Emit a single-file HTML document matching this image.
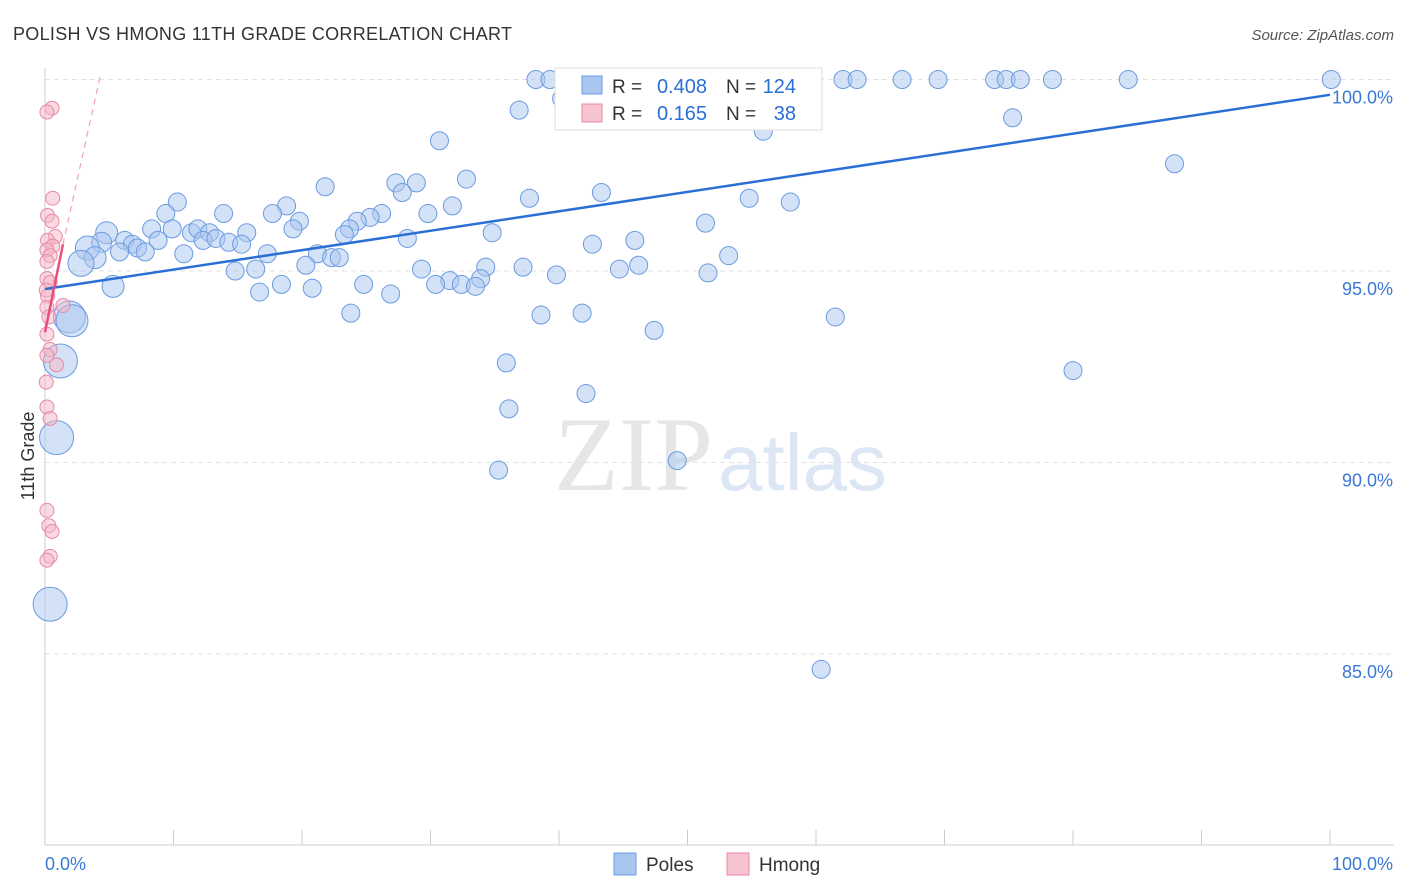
<!DOCTYPE html>
<html><head><meta charset="utf-8">
<style>
body{margin:0;background:#fff;font-family:"Liberation Sans",sans-serif;}
svg{display:block}
</style></head>
<body>
<svg id="chart" width="1406" height="892">
<text x="13" y="40" font-size="18" letter-spacing="0.3" fill="#333">POLISH VS HMONG 11TH GRADE CORRELATION CHART</text>
<text x="1394" y="40" font-size="15" fill="#555" font-style="italic" text-anchor="end">Source: ZipAtlas.com</text>
<text x="554" y="490" font-size="106" fill="#e6e6e6" font-family="Liberation Serif,serif">ZIP</text>
<text x="718" y="490" font-size="80" fill="#dce6f4">atlas</text>
<g id="grid"></g>
<g id="axes"></g>
<g id="marks"></g>
<text transform="translate(34,456) rotate(-90)" font-size="18" fill="#333" text-anchor="middle">11th Grade</text>
<g>
<rect x="555" y="68" width="267" height="62" fill="#fff" stroke="#ddd"/>
<rect x="582" y="76" width="20" height="18" fill="#a9c6ef" stroke="#6a9be0"/>
<text x="612" y="93" font-size="19" fill="#333">R =</text>
<text x="707" y="93" font-size="20" fill="#2a6fd6" text-anchor="end">0.408</text>
<text x="726" y="93" font-size="19" fill="#333">N =</text>
<text x="796" y="93" font-size="20" fill="#2a6fd6" text-anchor="end">124</text>
<rect x="582" y="104" width="20" height="18" fill="#f6c3d1" stroke="#e889a6"/>
<text x="612" y="120" font-size="19" fill="#333">R =</text>
<text x="707" y="120" font-size="20" fill="#2a6fd6" text-anchor="end">0.165</text>
<text x="726" y="120" font-size="19" fill="#333">N =</text>
<text x="796" y="120" font-size="20" fill="#2a6fd6" text-anchor="end">38</text>
</g>
<g>
<rect x="614" y="853" width="22" height="22" fill="#a9c6ef" stroke="#6a9be0"/>
<text x="646" y="871" font-size="19" fill="#333">Poles</text>
<rect x="727" y="853" width="22" height="22" fill="#f6c3d1" stroke="#e889a6"/>
<text x="759" y="871" font-size="19" fill="#333">Hmong</text>
</g>
</svg>
<script>
const yTicks=[100,95,90,85];
const yTickLabels=["100.0%","95.0%","90.0%","85.0%"];
const xTicks=[0,10,20,30,40,50,60,70,80,90,100];
const polesX=[38.2,39.3,41.2,43.2,46.3,47.9,50.2,54.1,55.3,62.1,63.2,66.7,69.5,73.9,74.8,75.9,78.4,84.3,100.1,40.2,36.9,41.0,75.3,55.9,30.7,87.9,32.8,27.3,28.9,21.8,27.8,43.3,10.3,37.7,54.8,58.0,18.8,31.7,9.4,13.9,17.7,26.2,29.8,19.8,25.3,24.3,51.4,4.8,8.3,9.9,11.4,11.9,12.8,15.7,19.3,23.7,23.3,34.8,4.4,3.3,6.2,6.8,8.8,7.2,7.8,12.3,13.3,14.3,15.3,28.2,42.6,45.9,5.8,3.9,10.8,17.3,21.2,22.3,22.9,53.2,2.8,14.8,16.4,20.3,29.3,34.3,37.2,44.7,46.2,51.6,39.8,33.9,31.5,5.3,18.4,30.4,32.4,33.5,24.8,20.8,16.7,26.9,23.8,38.6,41.8,61.5,1.9,2.1,47.4,1.2,35.9,80.0,42.1,36.1,0.9,35.3,49.2,0.4,60.4];
const polesY=[100,100,100,100,100,100,100,100,100,100,100,100,100,100,100,100,100,100,100,99.5,99.2,99.2,99.0,98.65,98.4,97.8,97.4,97.3,97.3,97.2,97.05,97.05,96.8,96.9,96.9,96.8,96.7,96.7,96.5,96.5,96.5,96.5,96.5,96.3,96.4,96.3,96.25,96.0,96.1,96.1,96.0,96.1,96.0,96.0,96.1,96.1,95.95,96.0,95.75,95.6,95.8,95.7,95.8,95.6,95.5,95.8,95.85,95.75,95.7,95.85,95.7,95.8,95.5,95.35,95.45,95.45,95.45,95.35,95.35,95.4,95.2,95.0,95.05,95.15,95.05,95.1,95.1,95.05,95.15,94.95,94.9,94.8,94.75,94.6,94.65,94.65,94.65,94.6,94.65,94.55,94.45,94.4,93.9,93.85,93.9,93.8,93.8,93.7,93.45,92.65,92.6,92.4,91.8,91.4,90.65,89.8,90.05,86.3,84.6];
const polesSize=[9,9,9,9,9,9,9,9,9,9,9,9,9,9,9,9,9,9,9,9,9,9,9,9,9,9,9,9,9,9,9,9,9,9,9,9,9,9,9,9,9,9,9,9,9,9,9,11,9,9,9,9,9,9,9,9,9,9,10,12,9,9,9,9,9,9,9,9,9,9,9,9,9,11,9,9,9,9,9,9,13,9,9,9,9,9,9,9,9,9,9,9,9,11,9,9,9,9,9,9,9,9,9,9,9,9,16,16,9,17,9,9,9,9,17,9,9,17,9];
const hmongX=[0.55,0.15,0.6,0.2,0.55,0.8,0.2,0.6,0.15,0.4,0.15,0.15,0.4,0.1,0.2,1.4,0.15,0.3,0.15,0.4,0.15,0.9,0.1,0.15,0.4,0.15,0.3,0.55,0.4,0.15];
const hmongY=[99.25,99.15,96.9,96.45,96.3,95.9,95.8,95.65,95.55,95.4,95.25,94.8,94.7,94.5,94.35,94.1,94.05,93.8,93.35,92.95,92.8,92.55,92.1,91.45,91.15,88.75,88.35,88.2,87.55,87.45];
const polesTrend=[[0,94.53],[100,99.6]];
const hmongTrend=[[0,93.4],[1.4,95.7]];
const hmongTrendExt=[[1.4,95.7],[4.3,100.1]];

const NS="http://www.w3.org/2000/svg";
const X=v=>45+v*12.85;
const Y=v=>79.5+(100-v)*38.3;
function mk(tag,attrs,parent){const e=document.createElementNS(NS,tag);for(const k in attrs)e.setAttribute(k,attrs[k]);parent.appendChild(e);return e;}
const grid=document.getElementById('grid'),axes=document.getElementById('axes'),marks=document.getElementById('marks');
yTicks.forEach((t,i)=>{
 const l=mk('line',{x1:45,x2:1394,y1:Y(t),y2:Y(t),stroke:'#e2e2e2','stroke-dasharray':'5,4'},grid);
 
 
 const tx=mk('text',{x:1393,y:Y(t)+24,'font-size':18,fill:'#3a78d8','text-anchor':'end'},axes);
 tx.textContent=yTickLabels[i];
 
 
});
const ax=mk('line',{x1:45,x2:1394,y1:845,y2:845,stroke:'#ccc'},axes);


const ay=mk('line',{x1:45,x2:45,y1:68,y2:845,stroke:'#ccc'},axes);


xTicks.forEach(t=>{
 const l=mk('line',{x1:X(t),x2:X(t),y1:830,y2:845,stroke:'#ccc'},axes);
 
 
});
const xl0=mk('text',{x:45,y:870,'font-size':18,fill:'#3a78d8'},axes);xl0.textContent='0.0%';


const xl1=mk('text',{x:1393,y:870,'font-size':18,fill:'#3a78d8','text-anchor':'end'},axes);xl1.textContent='100.0%';



polesX.forEach((v,i)=>{
 const c=mk('circle',{cx:X(v),cy:Y(polesY[i]),r:polesSize[i],fill:'rgba(169,198,239,0.5)',stroke:'#6a9be0','stroke-width':1},marks);
 
 
});
hmongX.forEach((v,i)=>{
 const c=mk('circle',{cx:X(v),cy:Y(hmongY[i]),r:7,fill:'rgba(246,184,200,0.5)',stroke:'#e889a6','stroke-width':1},marks);
 
 
});
const pt=mk('line',{x1:X(polesTrend[0][0]),y1:Y(polesTrend[0][1]),x2:X(polesTrend[1][0]),y2:Y(polesTrend[1][1]),stroke:'#2a6fd6','stroke-width':2.5},marks);


const ht=mk('line',{x1:X(hmongTrend[0][0]),y1:Y(hmongTrend[0][1]),x2:X(hmongTrend[1][0]),y2:Y(hmongTrend[1][1]),stroke:'#e8507a','stroke-width':2.5},marks);


const he=mk('line',{x1:X(hmongTrendExt[0][0]),y1:Y(hmongTrendExt[0][1]),x2:X(hmongTrendExt[1][0]),y2:Y(hmongTrendExt[1][1]),stroke:'#f0a0b8','stroke-width':1.2,'stroke-dasharray':'6,5'},marks);


</script>
</body></html>
